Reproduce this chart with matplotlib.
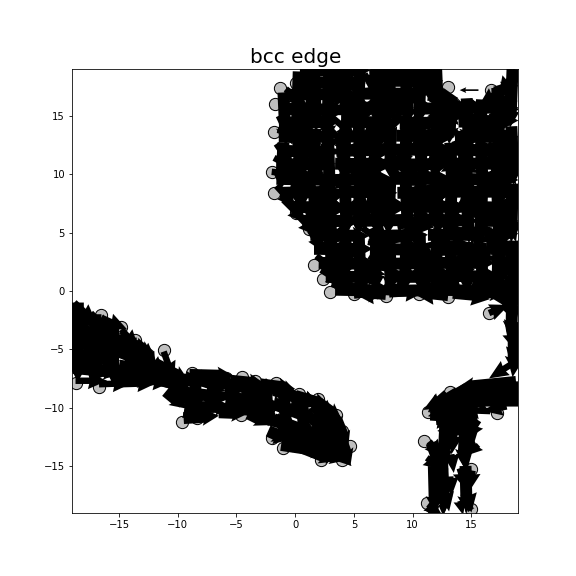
import numpy as np
import matplotlib
matplotlib.use('Agg')
import matplotlib.pyplot as plt

# atoms on the edge, drawn as grey circles
edge_x = [-1.3,-1.7,-1.8,-2.0,-1.8,0.1,1.2,1.6,2.4,3.0,5.0,7.7,10.5,13.0,16.5,0.1,13.0,16.7,13.5,
          -18.7,-16.7,-16.5,-14.8,-13.6,-11.2,-8.8,-5.9,-4.5,-3.4,-1.6,0.3,1.9,3.5,-9.6,-8.4,-5.7,-4.6,-2.0,-1.0,0.8,2.2,4.0,4.7,4.0,
          11.0,11.3,13.2,16.0,17.2,11.2,15.0,15.0]
edge_y = [17.4,16.0,13.6,10.2,8.4,6.7,5.3,2.2,1.0,-0.1,-0.3,-0.4,-0.3,-0.5,-1.9,17.8,17.5,17.2,16.0,
          -7.9,-8.2,-2.1,-3.1,-4.2,-5.1,-7.0,-7.5,-7.4,-7.7,-7.9,-8.8,-9.3,-10.6,-11.2,-10.9,-10.2,-10.6,-12.6,-13.5,-13.3,-14.5,-14.5,-13.3,-12.0,
          -12.9,-10.4,-8.7,-8.4,-10.5,-18.2,-18.7,-15.3]

# x, y, u, v of the big upper block
upper = [
 (0.6,18.6,1.8,-1.9),(2.0,18.8,-1.2,-2.4),(3.3,18.5,2.2,-1.4),(4.6,18.7,-2.0,-1.7),(5.9,18.6,1.3,-2.4),(7.2,18.8,2.4,-1.0),(8.5,18.5,-1.6,-2.1),(9.8,18.7,1.9,-1.8),(11.1,18.6,0.6,-2.6),(12.0,18.7,-1.2,-2.2),(18.8,18.9,-1.5,-2.2),(17.9,18.0,1.0,-1.8),
 (-0.8,17.3,1.9,-1.6),(0.7,17.5,2.3,0.6),(2.2,17.2,-1.6,-2.0),(3.7,17.4,2.4,-1.3),(5.2,17.3,-2.2,0.8),(6.7,17.5,1.2,-2.6),(8.2,17.2,2.6,-0.7),(9.7,17.4,-2.4,-1.2),(11.2,17.3,1.9,-1.6),(12.6,17.3,-0.9,-2.3),(17.2,17.0,-1.6,-1.2),(18.5,17.2,-1.4,-1.9),
 (-1.2,16.1,2.3,-1.0),(0.3,16.3,1.4,-2.4),(1.8,16.0,-1.5,-2.3),(3.3,16.2,2.6,0.7),(4.8,16.1,-2.5,-1.0),(6.3,16.3,1.8,-2.1),(7.8,16.0,2.7,0.3),(9.3,16.2,-1.1,-2.5),(10.8,16.1,2.2,-1.5),(12.3,16.3,1.6,-2.1),(13.8,16.0,2.6,-0.5),(15.3,16.2,-2.0,-1.7),(16.8,16.1,2.3,-0.6),(18.2,16.3,-0.8,-2.5),
 (-1.4,15.0,1.2,-2.5),(0.1,14.9,2.5,0.9),(1.6,15.1,-1.7,-2.0),(3.1,14.9,2.1,-1.8),(4.6,15.0,2.7,0.8),(6.1,15.1,-2.6,-0.9),(7.6,14.9,1.0,-2.6),(9.1,15.0,2.5,-1.2),(10.6,15.1,-1.9,-1.9),(12.1,14.9,2.7,0.4),(13.6,15.0,-1.2,-2.4),(15.1,15.1,2.2,-1.6),(16.6,14.9,1.8,0.9),(18.1,15.0,-2.4,-1.1),
 (-1.5,13.8,2.5,-0.7),(0.0,13.7,1.7,-2.1),(1.5,13.9,-2.3,-1.2),(3.0,13.8,2.0,-2.0),(4.5,13.7,-0.9,-2.6),(6.0,13.9,2.6,-0.9),(7.5,13.8,-2.2,-1.5),(9.0,13.7,2.4,1.0),(10.5,13.9,1.1,-2.5),(12.0,13.8,-2.5,-0.8),(13.5,13.7,2.0,-1.8),(15.0,13.9,2.6,0.5),(16.5,13.8,-1.3,-2.3),(18.0,13.7,0.9,-2.2),
 (-1.6,12.6,1.5,-2.2),(-0.1,12.5,2.6,-0.4),(1.4,12.7,-1.4,-2.4),(2.9,12.6,2.5,1.0),(4.4,12.5,1.9,-2.0),(5.9,12.7,-2.6,-1.0),(7.4,12.6,1.4,-2.4),(8.9,12.5,2.7,-0.5),(10.4,12.7,-2.1,-1.7),(11.9,12.6,1.6,-2.2),(13.4,12.5,2.6,0.9),(14.9,12.7,-1.0,-2.5),(16.4,12.6,2.3,-1.3),(17.9,12.5,-1.9,-1.8),
 (-1.8,11.4,2.4,-1.3),(-0.3,11.3,1.0,-2.5),(1.2,11.5,2.7,0.6),(2.7,11.4,-1.9,-1.9),(4.2,11.3,2.2,-1.5),(5.7,11.5,1.3,-2.4),(7.2,11.4,-2.6,-0.7),(8.7,11.3,2.1,-1.8),(10.2,11.5,2.6,0.8),(11.7,11.4,-1.4,-2.3),(13.2,11.3,2.4,-1.2),(14.7,11.5,-2.3,-1.3),(16.2,11.4,1.7,-2.1),(17.7,11.3,1.1,-2.2),
 (-2.0,10.2,2.6,-0.3),(-0.5,10.1,1.8,-2.0),(1.0,10.3,-1.6,-2.2),(2.5,10.2,2.3,-1.5),(4.0,10.1,2.7,0.9),(5.5,10.3,-2.2,-1.6),(7.0,10.2,1.0,-2.6),(8.5,10.1,2.5,-1.1),(10.0,10.3,-2.5,-1.1),(11.5,10.2,1.9,-1.9),(13.0,10.1,2.6,0.6),(14.5,10.3,-1.2,-2.4),(16.0,10.2,2.2,-1.6),(17.5,10.1,-1.7,-2.0),
 (-1.6,9.0,1.7,-1.9),(-0.1,8.9,2.5,0.7),(1.4,9.1,1.2,-2.5),(2.9,9.0,-2.5,-1.0),(4.4,8.9,2.0,-1.9),(5.9,9.1,2.6,-0.6),(7.4,9.0,-1.5,-2.3),(8.9,8.9,2.3,-1.4),(10.4,9.1,1.5,-2.3),(11.9,9.0,-2.6,-0.8),(13.4,8.9,2.4,-1.1),(14.9,9.1,1.1,-2.5),(16.4,9.0,-2.0,-1.7),(17.9,8.9,0.8,-2.4),
 (-1.0,7.8,2.0,-2.0),(0.5,7.7,1.5,-2.3),(2.0,7.9,2.6,0.7),(3.5,7.8,-2.1,-1.7),(5.0,7.7,1.1,-2.5),(6.5,7.9,2.7,-0.4),(8.0,7.8,-2.4,-1.2),(9.5,7.7,2.1,-1.8),(11.0,7.9,2.6,0.9),(12.5,7.8,-1.2,-2.4),(14.0,7.7,2.3,-1.3),(15.5,7.9,-2.3,-1.3),(17.0,7.8,1.6,-2.1),(18.3,7.7,-1.0,-2.4),
 (0.1,6.6,1.8,-1.9),(1.6,6.5,2.5,-1.0),(3.1,6.7,-1.3,-2.4),(4.6,6.6,2.4,1.0),(6.1,6.5,1.7,-2.1),(7.6,6.7,-2.6,-0.8),(9.1,6.6,1.3,-2.5),(10.6,6.5,2.6,-0.6),(12.1,6.7,-1.9,-1.9),(13.6,6.6,2.0,-1.9),(15.1,6.5,2.6,0.7),(16.6,6.7,-1.1,-2.5),(18.1,6.6,0.7,-2.4),
 (1.2,5.4,1.4,-2.2),(2.7,5.3,2.6,-0.8),(4.2,5.5,-2.0,-1.8),(5.7,5.4,2.2,-1.6),(7.2,5.3,1.0,-2.6),(8.7,5.5,2.7,0.5),(10.2,5.4,-2.3,-1.4),(11.7,5.3,1.8,-2.0),(13.2,5.5,2.5,-1.0),(14.7,5.4,-1.5,-2.2),(16.2,5.3,2.2,-1.5),(17.7,5.5,-1.2,-2.3),
 (1.7,4.2,2.3,-1.2),(3.2,4.1,1.2,-2.4),(4.7,4.3,-2.4,-1.1),(6.2,4.2,2.6,-0.6),(7.7,4.1,-1.0,-2.5),(9.2,4.3,2.4,-1.3),(10.7,4.2,1.5,-2.2),(12.2,4.1,-2.6,-0.7),(13.7,4.3,1.9,-1.9),(15.2,4.2,2.5,0.6),(16.7,4.1,-0.9,-2.4),(18.2,4.3,0.6,-2.5),
 (1.8,3.0,2.0,-1.6),(3.3,2.9,2.5,0.7),(4.8,3.1,-1.4,-2.2),(6.3,3.0,2.2,-1.5),(7.8,2.9,-2.2,-1.3),(9.3,3.1,2.6,-0.4),(10.8,3.0,1.0,-2.4),(12.3,2.9,-2.3,-1.2),(13.8,3.1,2.4,-1.0),(15.3,3.0,-1.6,-2.0),(16.8,2.9,1.4,-2.2),(18.2,3.1,-0.7,-2.5),
 (2.2,1.8,2.1,-1.3),(3.7,1.7,1.4,-1.9),(5.2,1.9,2.5,-0.5),(6.7,1.8,-1.9,-1.6),(8.2,1.7,2.3,-1.0),(9.7,1.9,-1.1,-2.0),(11.2,1.8,2.5,-0.8),(12.7,1.7,1.5,-2.0),(14.2,1.9,-2.2,-1.4),(15.7,1.8,2.0,-1.7),(17.2,1.7,1.0,-2.3),(18.5,1.9,-0.4,-2.6),
 (3.1,0.6,2.4,-0.8),(4.6,0.5,2.3,-0.7),(6.1,0.7,-1.8,-1.0),(7.6,0.6,2.6,-0.9),(9.1,0.5,-2.3,-0.8),(10.6,0.7,2.6,-0.8),(12.1,0.6,2.4,-1.0),(13.6,0.5,-1.9,-0.9),(15.1,0.7,2.2,-1.4),(16.6,0.6,1.4,-2.0),(18.0,0.5,0.6,-2.6),
 (5.0,-0.4,2.8,0.3),(7.7,-0.5,-2.6,0.2),(8.0,-0.3,3.0,0.2),(13.0,-0.6,-2.8,0.3),(13.4,-0.4,3.2,-0.3),(16.5,-1.9,1.7,0.7),
 (18.4,-0.5,0.3,-2.4),(18.6,-2.0,-0.5,-2.2),(18.2,-3.2,0.6,-2.0),(18.7,-4.5,-0.3,-2.0),(18.7,-6.0,-0.2,-1.4),
]

# long displacements that run across the upper block
upper_long = [
 (0.4,18.9,6.0,0.0),(6.4,19.0,6.0,-0.1),(0.0,17.9,6.0,-0.1),(6.2,18.0,6.4,0.0),
 (-0.7,16.8,6.0,0.1),(5.3,16.9,6.0,0.0),(11.3,16.8,2.6,-0.3),(17.0,17.0,2.0,0.6),
 (-1.0,15.6,5.5,-0.1),(4.6,15.7,5.5,0.0),(10.1,15.6,5.0,0.1),(15.1,15.7,3.9,0.0),
 (-1.2,14.4,5.0,0.1),(3.9,14.5,5.0,-0.1),(8.9,14.4,5.0,0.0),(13.9,14.5,5.1,0.1),
 (-1.4,13.2,5.0,0.0),(3.6,13.2,5.0,0.1),(8.6,13.3,5.0,-0.1),(13.6,13.2,5.4,0.0),
 (-1.5,12.0,5.0,-0.1),(3.5,12.0,5.0,0.1),(8.5,12.1,5.0,0.0),(13.5,12.1,5.5,-0.1),
 (-1.6,10.8,5.0,0.1),(3.4,10.9,5.0,-0.1),(8.4,10.8,5.0,0.1),(13.4,10.9,5.6,0.0),
 (-1.6,9.6,5.0,-0.1),(3.4,9.5,5.0,0.1),(8.4,9.6,5.0,0.0),(13.4,9.6,5.6,-0.1),
 (-1.3,8.4,5.0,0.1),(3.7,8.5,5.0,-0.1),(8.7,8.4,5.0,0.1),(13.7,8.5,5.3,0.0),
 (-0.4,7.2,5.0,-0.1),(4.6,7.1,5.0,0.1),(9.6,7.2,5.0,0.0),(14.6,7.2,4.4,-0.1),
 (0.6,6.0,5.0,0.0),(5.6,6.0,5.0,0.1),(10.6,6.1,5.0,-0.1),(15.6,6.0,3.4,0.0),
 (1.3,4.8,5.0,-0.1),(6.3,4.7,5.0,0.1),(11.3,4.8,5.0,0.0),(16.3,4.8,2.7,0.1),
 (1.6,3.6,5.0,0.0),(6.6,3.6,5.0,-0.1),(11.6,3.5,5.0,0.1),(16.6,3.6,2.4,0.0),
 (2.0,2.4,5.0,-0.1),(7.0,2.3,5.0,0.1),(12.0,2.4,5.0,0.0),(17.0,2.4,2.0,-0.1),
 (2.6,1.2,5.0,0.0),(7.6,1.2,5.0,0.1),(12.6,1.3,5.0,-0.1),
 (3.4,0.1,5.0,-0.1),(8.4,0.0,5.0,0.1),(13.0,0.1,5.0,-0.3),
 (18.5,1.0,-0.1,-5.0),(18.6,-3.0,0.0,-4.0),(17.6,0.5,1.0,-3.0),
 # columns
 (-1.0,17.0,0.2,-4.5),(-1.0,12.7,-0.2,-4.0),
 (0.3,18.8,-0.2,-6.2),(0.3,12.8,0.2,-6.0),
 (1.6,18.9,0.2,-5.2),(1.7,13.9,-0.2,-5.2),(1.6,8.9,0.2,-5.2),
 (2.9,19.0,-0.2,-6.2),(2.8,13.0,0.2,-6.2),(3.0,7.0,0.1,-6.4),
 (4.2,19.0,0.2,-4.8),(4.3,14.3,-0.2,-4.8),(4.2,9.6,0.2,-4.8),(4.3,4.9,-0.2,-5.0),
 (5.5,19.0,-0.2,-4.8),(5.4,14.3,0.2,-4.8),(5.5,9.6,-0.1,-4.8),(5.4,4.9,0.2,-5.0),
 (6.8,19.0,0.2,-4.8),(6.9,14.3,-0.2,-4.8),(6.8,9.6,0.2,-4.8),(6.9,4.9,-0.1,-5.0),
 (8.1,19.0,-0.2,-4.8),(8.0,14.3,0.2,-4.8),(8.1,9.6,-0.2,-4.8),(8.0,4.9,0.2,-5.0),
 (9.4,19.0,0.2,-4.8),(9.5,14.3,-0.2,-4.8),(9.4,9.6,0.2,-4.8),(9.5,4.9,-0.2,-5.0),
 (10.7,19.0,-0.2,-4.8),(10.6,14.3,0.2,-4.8),(10.7,9.6,-0.2,-4.8),(10.6,4.9,0.1,-5.0),
 (12.0,19.0,0.2,-4.8),(12.1,14.3,-0.2,-4.8),(12.0,9.6,0.2,-4.8),(12.1,4.9,-0.2,-5.0),
 (13.3,16.6,-0.2,-4.0),(13.2,12.7,0.2,-4.4),(13.3,8.4,-0.2,-4.2),(13.2,4.3,0.2,-4.4),
 (14.6,16.5,0.2,-4.0),(14.7,12.6,-0.2,-4.4),(14.6,8.3,0.2,-4.2),(14.7,4.2,-0.1,-4.4),
 (15.9,16.4,-0.2,-4.0),(15.8,12.5,0.2,-4.4),(15.9,8.2,-0.2,-4.2),(15.8,4.1,0.2,-4.4),
 (17.2,17.4,0.2,-4.4),(17.3,13.1,-0.2,-4.6),(17.2,8.6,0.2,-4.6),(17.3,4.1,-0.1,-4.7),
 (18.5,19.0,-0.2,-5.0),(18.4,14.1,0.2,-5.0),(18.5,9.2,-0.1,-5.0),(18.5,4.3,0.1,-4.5),
]

# lower left band
band = [
 (-18.8,-1.0,1.9,-1.8),(-18.9,-2.3,2.3,-0.5),(-18.8,-3.5,2.5,-1.0),(-18.9,-4.7,2.3,0.8),(-18.8,-6.0,2.6,-0.4),(-18.7,-7.7,2.7,0.0),
 (-17.4,-1.9,1.7,-1.8),(-17.2,-3.1,2.4,-0.8),(-17.5,-4.4,2.0,-1.4),(-17.3,-5.4,-1.7,-1.6),(-17.2,-6.6,2.7,-0.5),(-16.7,-8.0,2.8,0.1),
 (-16.5,-2.3,2.2,-1.0),(-15.8,-3.5,1.5,-2.0),(-16.0,-4.7,2.5,0.4),(-15.7,-5.9,-1.6,-1.9),(-15.5,-7.0,2.4,-0.8),(-14.9,-8.0,3.1,0.1),
 (-14.8,-3.3,1.5,-1.7),(-14.3,-4.5,2.3,-0.7),(-14.3,-5.7,2.3,-1.2),(-14.0,-6.9,-1.9,-1.1),(-13.4,-7.8,2.9,0.0),
 (-13.6,-4.4,1.8,-1.7),(-12.8,-5.4,1.7,-1.9),(-12.7,-6.5,2.4,-1.3),(-12.1,-7.4,-1.4,-0.9),(-11.8,-7.8,2.6,-0.6),
 (-11.2,-5.2,0.9,-2.5),(-11.3,-6.6,1.8,-1.6),(-10.6,-7.2,1.7,-1.9),(-10.6,-8.5,2.0,-1.0),(-10.0,-7.5,2.3,-0.3),(-9.6,-9.0,2.0,-1.4),
 (-8.9,-7.2,2.3,-0.7),(-9.0,-8.5,-0.9,-1.5),(-8.4,-9.3,-1.2,-1.6),(-8.3,-7.8,2.4,-0.8),(-7.7,-9.0,1.2,-1.6),(-7.4,-10.2,-1.6,-0.4),
 (-6.9,-7.6,1.8,-0.9),(-6.6,-8.8,2.4,-0.5),(-6.1,-9.9,2.2,-0.1),(-5.9,-7.6,2.3,-1.1),(-5.2,-8.7,1.7,-1.2),
 (-4.6,-7.6,2.3,-0.9),(-4.2,-8.8,2.2,-0.9),(-4.1,-10.0,2.2,-0.6),(-3.4,-7.9,2.2,-0.8),(-2.9,-9.2,2.4,-1.1),(-2.8,-10.4,1.8,-1.5),
 (-1.6,-8.1,2.0,-0.9),(-1.5,-9.4,2.4,-1.2),(-1.6,-10.7,2.0,-1.8),(-1.9,-12.4,1.7,-0.3),(-0.9,-11.7,2.2,-1.5),
 (0.2,-8.9,1.9,-1.1),(0.0,-10.2,2.2,-1.3),(0.2,-11.5,2.4,-1.3),(0.6,-12.8,2.2,-0.5),(-0.9,-13.2,2.2,0.3),
 (1.8,-9.4,1.6,-1.6),(1.6,-10.8,2.2,-1.5),(1.9,-12.2,2.1,-1.4),(2.2,-14.2,1.8,0.5),(2.7,-13.3,1.7,-0.4),
 (3.1,-10.6,0.9,-1.9),(3.0,-11.8,1.0,-2.0),(3.0,-13.4,1.8,-1.6),
]

band_long = [
 (-18.9,-1.7,4.0,-2.1),(-18.9,-3.0,4.0,-1.6),(-18.9,-4.2,4.0,-1.4),(-18.9,-5.4,4.0,-0.6),(-18.9,-6.6,4.0,-0.4),
 (-15.0,-3.9,3.0,-1.8),(-15.0,-5.2,3.5,-1.4),(-15.0,-6.4,3.5,-0.6),(-15.0,-7.3,3.5,-0.1),
 (-12.0,-6.2,3.0,-1.6),(-12.0,-7.5,3.0,-0.8),(-9.5,-7.6,4.0,-0.2),(-9.5,-8.7,4.0,-0.5),(-9.4,-10.0,4.0,0.1),
 (-5.6,-8.0,4.0,-0.8),(-5.5,-9.1,4.0,-0.9),(-6.0,-9.9,3.5,-0.5),(-1.8,-8.5,4.0,-1.3),(-1.8,-9.7,4.0,-1.5),
 (-1.8,-11.0,4.0,-1.5),(-1.5,-12.2,4.0,-1.2),(1.5,-9.8,2.5,-2.2),(1.5,-11.0,3.0,-2.2),(1.4,-12.4,3.0,-1.8),
 (2.0,-13.8,2.4,-0.7),(-8.4,-9.5,-1.2,-1.4),
 (-11.0,-8.6,1.8,-1.5),(-9.5,-10.9,3.0,0.2),(-6.5,-10.4,2.5,-0.1),(-4.0,-10.5,2.0,-1.0),(-2.3,-12.0,1.8,-0.8),(-1.2,-13.2,4.0,-0.6),(0.5,-13.4,3.0,-1.2),
 (-9.0,-7.2,3.8,-0.1),(-5.5,-7.7,3.0,-0.3),(-3.0,-8.0,3.0,-0.4),(0.0,-9.0,3.0,-0.9),(2.0,-9.6,2.0,-1.5),(3.5,-11.0,1.0,-2.5),(4.0,-13.0,0.7,-2.0),
 (-18.5,-1.0,0.0,-6.8),(-17.0,-2.0,0.0,-6.0),(-15.5,-3.0,0.0,-5.0),(-14.0,-4.0,0.0,-3.8),(-12.5,-5.2,0.2,-2.7),
 (-10.0,-7.2,0.2,-2.7),(-8.5,-7.2,0.0,-3.4),(-7.0,-7.5,0.0,-3.0),(-5.5,-7.6,0.0,-2.6),(-4.0,-7.8,0.1,-2.6),
 (-2.5,-8.0,0.2,-3.6),(-1.0,-8.3,0.3,-4.5),(0.5,-9.0,0.4,-4.4),(2.0,-9.5,0.4,-4.5),(3.3,-10.7,0.4,-3.8),
]

# lower right branch
branch = [
 (19.0,-5.9,-2.5,-1.6),(19.0,-8.0,-2.6,-0.6),(18.9,-9.0,-2.7,0.3),(17.4,-8.2,-2.3,-0.4),(17.0,-9.4,-2.4,-0.3),(15.8,-8.5,-2.3,-0.1),
 (15.5,-9.8,-2.3,0.5),(16.6,-10.3,-2.6,0.1),(14.3,-8.9,-2.2,-0.3),(13.6,-9.9,-2.2,-0.5),(12.7,-9.2,-1.8,-1.0),(11.6,-10.3,1.0,-0.7),
 (14.4,-10.6,-0.5,-1.8),(13.0,-10.9,-0.6,-1.9),(15.6,-11.1,-1.1,-1.7),(12.0,-11.3,1.2,0.1),(14.8,-12.0,0.2,-1.8),(13.6,-12.0,-0.3,-2.0),
 (11.4,-12.9,1.2,-1.5),(11.2,-14.3,1.4,-1.0),(12.2,-13.2,0.4,-2.4),(14.3,-13.3,0.3,-2.2),(15.6,-13.2,-1.0,-0.9),(13.3,-14.0,0.2,-1.6),
 (12.2,-15.0,0.7,-2.0),(14.0,-15.2,0.6,-1.9),(15.1,-15.4,-0.3,-1.8),(13.2,-15.9,0.1,-1.7),(12.8,-17.2,0.3,-1.7),(14.7,-17.0,0.3,-2.0),
 (11.3,-18.3,1.2,-0.9),(11.4,-19.2,0.9,0.8),(12.6,-18.3,0.0,-1.0),(14.0,-18.0,0.3,-1.2),(15.0,-18.8,-0.4,0.6),
 (18.0,-9.9,-2.0,-0.4),
]

branch_long = [
 (19.0,-8.6,-6.0,-0.1),(19.0,-9.4,-5.0,0.0),(15.0,-9.2,-3.5,-0.4),(15.0,-10.2,-3.5,-0.2),(15.5,-10.9,-3.5,-0.3),
 (14.6,-11.8,-2.5,-0.2),(12.8,-11.0,-0.2,-4.0),(14.5,-11.0,-0.2,-4.0),(11.6,-13.0,0.9,-2.5),(12.5,-14.5,0.2,-4.5),
 (14.5,-15.0,0.1,-4.0),(18.8,-7.8,-5.0,-0.5),(13.0,-8.9,-1.7,-1.5),(11.5,-10.6,3.0,-0.2),(11.8,-15.0,0.1,-4.0),
]

lone_x = [15.6]
lone_y = [17.2]
lone_u = [-1.6]
lone_v = [0.0]

fig, ax = plt.subplots(figsize=(8, 8), dpi=72)
ax.scatter(edge_x, edge_y, s=150, c='0.75', edgecolors='k', linewidths=1, zorder=1)
for arr in (upper, band, branch):
    x, y, u, v = np.array(arr).T
    ax.quiver(x, y, u, v, angles='xy', scale_units='xy', scale=1, units='xy',
              width=0.55, headwidth=2.6, headlength=3, headaxislength=2.8, zorder=2)
for arr in (upper_long, band_long, branch_long):
    x, y, u, v = np.array(arr).T
    ax.quiver(x, y, u, v, angles='xy', scale_units='xy', scale=1, units='xy',
              width=1.02, headwidth=1.5, headlength=1.4, headaxislength=1.3, zorder=2)
ax.quiver(lone_x, lone_y, lone_u, lone_v, angles='xy', scale_units='xy', scale=1, units='xy',
          width=0.14, headwidth=3.5, headlength=4, headaxislength=3.5, zorder=2)
ax.set_xlim(-19, 19)
ax.set_ylim(-19, 19)
ax.set_title('bcc edge', fontsize=20)
fig.savefig('out.png', dpi=72)
